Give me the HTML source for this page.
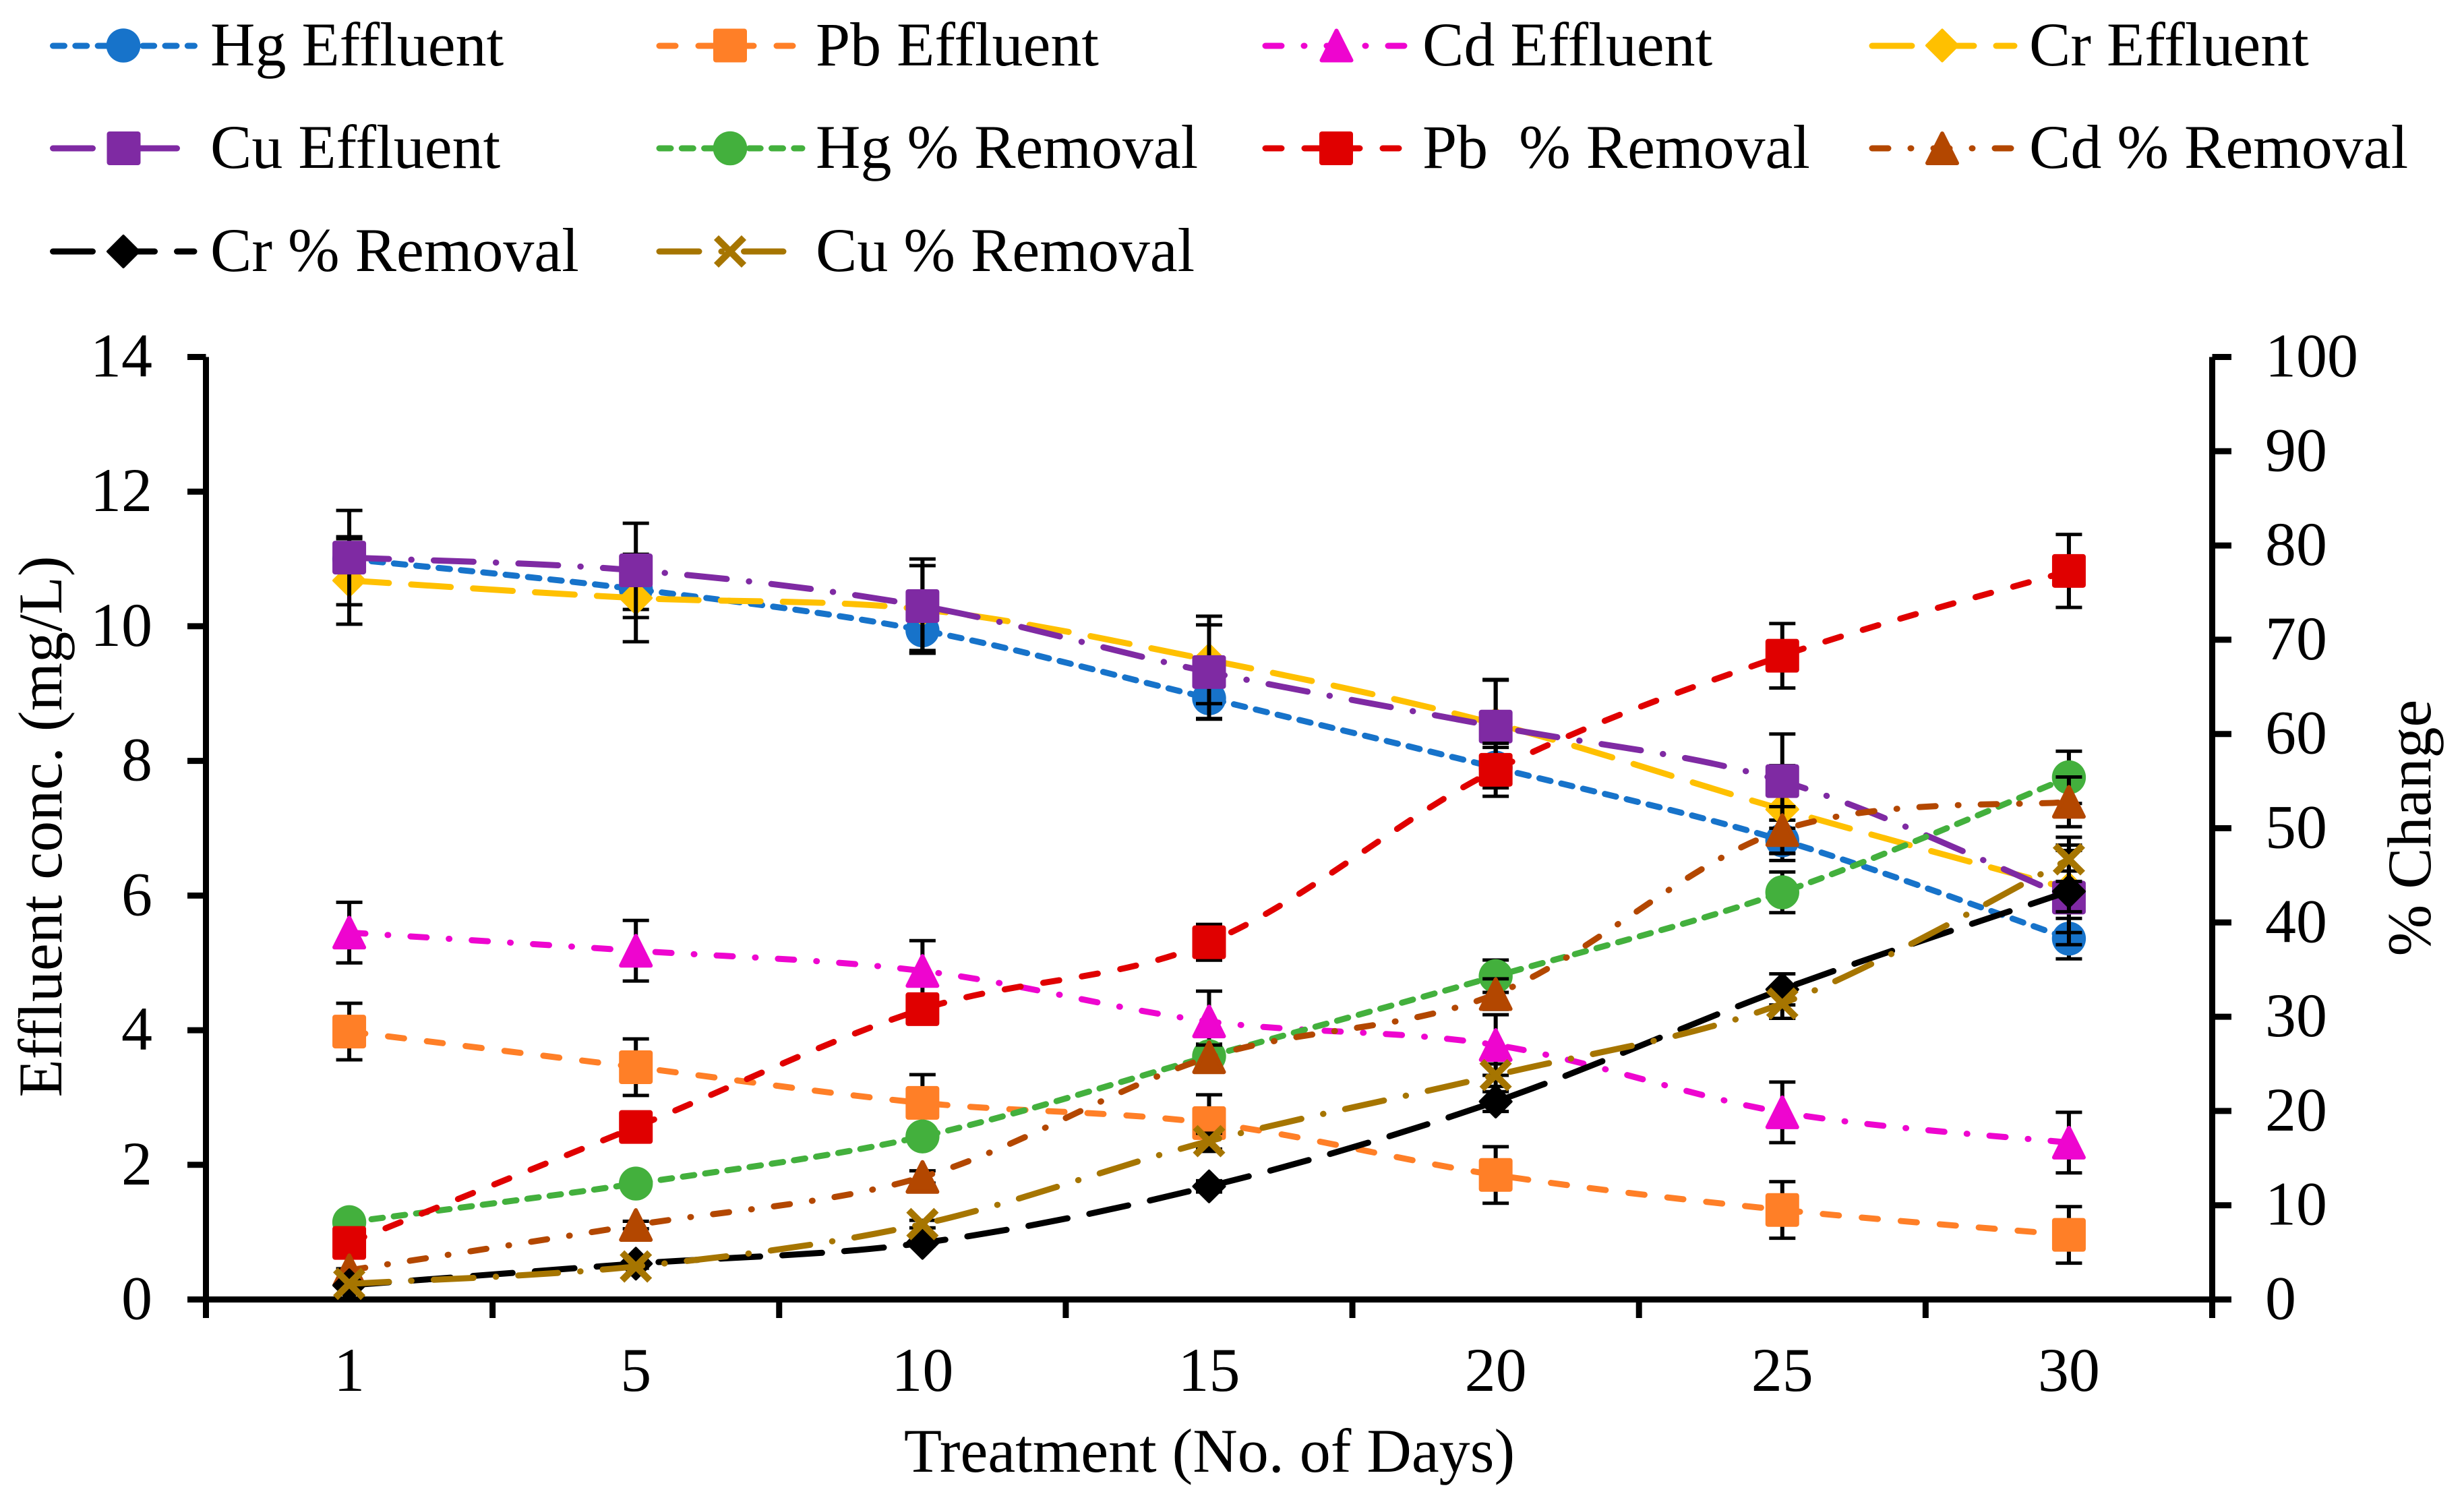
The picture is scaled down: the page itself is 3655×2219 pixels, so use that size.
<!DOCTYPE html>
<html lang="en">
<head>
<meta charset="utf-8">
<title>Effluent concentration and percent removal over treatment days</title>
<style>
html,body{margin:0;padding:0;background:#fff;width:3655px;height:2219px;overflow:hidden}
svg{display:block}
text{font-family:"Liberation Serif",serif;font-size:92px;fill:#000;white-space:pre}
</style>
</head>
<body>
<svg id="chart" xmlns="http://www.w3.org/2000/svg" width="3655" height="2219" viewBox="0 0 3655 2219">
  <g id="axes"></g>
  <g id="tick-labels"></g>
  <g id="plot"></g>

  <text x="1794" y="2183" text-anchor="middle">Treatment (No. of Days)</text>
  <text transform="translate(91,1226) rotate(-90)" text-anchor="middle">Effluent conc. (mg/L)</text>
  <text transform="translate(3605,1228) rotate(-90)" text-anchor="middle">% Change</text>

  <g stroke-linecap="round" fill="none" stroke-width="9">
    <g>
      <line x1="78.5" y1="68" x2="288.5" y2="68" stroke="#1773CA" stroke-dasharray="17 16.3"/>
      <circle cx="183" cy="67.5" r="25.3" fill="#1773CA" stroke="none"/>
      <text x="312" y="97" stroke="none">Hg Effluent</text>
    </g>
    <g>
      <line x1="978" y1="68" x2="1180" y2="68" stroke="#FF7F27" stroke-dasharray="24 34"/>
      <rect x="1058" y="42.5" width="50" height="50" rx="4" fill="#FF7F27" stroke="none"/>
      <text x="1210" y="97" stroke="none">Pb Effluent</text>
    </g>
    <g>
      <line x1="1877" y1="68" x2="2087" y2="68" stroke="#EE05CF" stroke-dasharray="24 33 1 33"/>
      <polygon points="1982.5,45.5 2004.5,89.5 1960.5,89.5" fill="#EE05CF" stroke="#EE05CF" stroke-width="6" stroke-linejoin="round"/>
      <text x="2110" y="97" stroke="none">Cd Effluent</text>
    </g>
    <g>
      <line x1="2777" y1="68" x2="2988" y2="68" stroke="#FFC000" stroke-dasharray="59 33"/>
      <polygon points="2881,44.5 2904,67.5 2881,90.5 2858,67.5" fill="#FFC000" stroke="#FFC000" stroke-width="4" stroke-linejoin="round"/>
      <text x="3010" y="97" stroke="none">Cr Effluent</text>
    </g>
    <g>
      <line x1="78.5" y1="220" x2="262.5" y2="220" stroke="#7F2AA3" stroke-dasharray="59 33 0.5 33"/>
      <rect x="158.5" y="195" width="50" height="50" rx="4" fill="#7F2AA3" stroke="none"/>
      <text x="312" y="249" stroke="none">Cu Effluent</text>
    </g>
    <g>
      <line x1="978" y1="220" x2="1190" y2="220" stroke="#43B03D" stroke-dasharray="17 16.3"/>
      <circle cx="1083" cy="220" r="25.3" fill="#43B03D" stroke="none"/>
      <text x="1210" y="249" stroke="none">Hg % Removal</text>
    </g>
    <g>
      <line x1="1877" y1="220" x2="2080" y2="220" stroke="#E00000" stroke-dasharray="24 34"/>
      <rect x="1957" y="195" width="50" height="50" rx="4" fill="#E00000" stroke="none"/>
      <text x="2110" y="249" stroke="none" xml:space="preserve">Pb  % Removal</text>
    </g>
    <g>
      <line x1="2777" y1="220" x2="2988" y2="220" stroke="#B34700" stroke-dasharray="24 33 1 33"/>
      <polygon points="2881,198 2903,242 2859,242" fill="#B34700" stroke="#B34700" stroke-width="6" stroke-linejoin="round"/>
      <text x="3010" y="249" stroke="none">Cd % Removal</text>
    </g>
    <g>
      <line x1="78.5" y1="373" x2="288" y2="373" stroke="#000" stroke-dasharray="59 33"/>
      <polygon points="183,350 206,373 183,396 160,373" fill="#000" stroke="#000" stroke-width="4" stroke-linejoin="round"/>
      <text x="312" y="402" stroke="none">Cr % Removal</text>
    </g>
    <g>
      <line x1="978" y1="373" x2="1162" y2="373" stroke="#A67500" stroke-dasharray="59 33 0.5 33"/>
      <path d="M1062.5 352.5L1103.5 393.5M1103.5 352.5L1062.5 393.5" stroke="#A67500" stroke-width="10" stroke-linecap="butt"/>
      <text x="1210" y="402" stroke="none">Cu % Removal</text>
    </g>
  </g>
</svg>
<script>
// ---- chart data ----
const categories = ['1', '5', '10', '15', '20', '25', '30'];
const leftTicks = [0, 2, 4, 6, 8, 10, 12, 14];
const rightTicks = [0, 10, 20, 30, 40, 50, 60, 70, 80, 90, 100];

const hgEffluent = [11.0, 10.55, 9.94, 8.93, 7.9, 6.82, 5.36];
const pbEffluent = [3.98, 3.45, 2.92, 2.62, 1.85, 1.33, 0.96];
const cdEffluent = [5.45, 5.18, 4.88, 4.13, 3.78, 2.78, 2.33];
const crEffluent = [10.68, 10.42, 10.25, 9.5, 8.55, 7.28, 6.1];
const cuEffluent = [11.02, 10.83, 10.3, 9.32, 8.51, 7.7, 5.97];
const hgRemoval = [8.2, 12.3, 17.3, 25.8, 34.3, 43.2, 55.4];
const pbRemoval = [6.0, 18.3, 30.8, 37.9, 56.2, 68.3, 77.3];
const cdRemoval = [3.1, 7.9, 13.0, 25.7, 32.4, 49.8, 52.8];
const crRemoval = [1.5, 3.8, 6.0, 12.0, 21.0, 32.9, 43.3];
const cuRemoval = [1.66, 3.5, 8.0, 16.8, 23.8, 31.4, 46.7];

const hgEffluentErr = [0.3, 0.3, 0.3, 0.3, 0.3, 0.3, 0.3];
const pbEffluentErr = [0.42, 0.42, 0.42, 0.42, 0.42, 0.42, 0.42];
const cdEffluentErr = [0.45, 0.45, 0.45, 0.45, 0.45, 0.45, 0.45];
const crEffluentErr = [0.65, 0.65, 0.65, 0.65, 0.65, 0.65, 0.65];
const cuEffluentErr = [0.7, 0.7, 0.7, 0.7, 0.7, 0.7, 0.7];
const hgRemovalErr = [0.41, 0.62, 0.87, 1.29, 1.72, 2.16, 2.77];
const pbRemovalErr = [0.3, 0.92, 1.54, 1.9, 2.81, 3.42, 3.87];
const cdRemovalErr = [0.16, 0.4, 0.65, 1.29, 1.62, 2.49, 2.64];
const crRemovalErr = [0.08, 0.19, 0.3, 0.6, 1.05, 1.65, 2.16];
const cuRemovalErr = [0.08, 0.18, 0.4, 0.84, 1.19, 1.57, 2.34];

// ---- geometry and axis functions ----
const SVGNS = 'http://www.w3.org/2000/svg';
const plotLeft = 305.5, plotRight = 3281.5, plotTop = 529.5, plotBottom = 1927.5;
const leftMax = 14, rightMax = 100;
const xAt = i => plotLeft + (plotRight - plotLeft) * (i + 0.5) / categories.length;
const xEdge = i => plotLeft + (plotRight - plotLeft) * i / categories.length;
const yLeft = v => plotBottom - (plotBottom - plotTop) * v / leftMax;
const yRight = v => plotBottom - (plotBottom - plotTop) * v / rightMax;

function make(parent, tag, attrs, content) {
  const node = document.createElementNS(SVGNS, tag);
  for (const k in attrs) node.setAttribute(k, attrs[k]);
  if (content !== undefined) node.textContent = content;
  parent.appendChild(node);
  return node;
}

function smoothPath(pts) {
  let d = 'M' + pts[0][0] + ' ' + pts[0][1];
  for (let i = 0; i < pts.length - 1; i++) {
    const p0 = pts[Math.max(0, i - 1)], p1 = pts[i], p2 = pts[i + 1], p3 = pts[Math.min(pts.length - 1, i + 2)];
    const c1x = p1[0] + (p2[0] - p0[0]) / 6, c1y = p1[1] + (p2[1] - p0[1]) / 6;
    const c2x = p2[0] - (p3[0] - p1[0]) / 6, c2y = p2[1] - (p3[1] - p1[1]) / 6;
    d += 'C' + c1x + ' ' + c1y + ' ' + c2x + ' ' + c2y + ' ' + p2[0] + ' ' + p2[1];
  }
  return d;
}

const DOT = '17 16.3', DASH = '24 34', LONG = '59 33', DASHDOT = '24 33 1 33', LONGDOT = '59 33 0.5 33';
const seriesList = [
  { key: 'hg-effluent', values: hgEffluent, errs: hgEffluentErr, y: yLeft, color: '#1773CA', dash: DOT, marker: 'circle' },
  { key: 'pb-effluent', values: pbEffluent, errs: pbEffluentErr, y: yLeft, color: '#FF7F27', dash: DASH, marker: 'square' },
  { key: 'cd-effluent', values: cdEffluent, errs: cdEffluentErr, y: yLeft, color: '#EE05CF', dash: DASHDOT, marker: 'triangle' },
  { key: 'cr-effluent', values: crEffluent, errs: crEffluentErr, y: yLeft, color: '#FFC000', dash: LONG, marker: 'diamond' },
  { key: 'cu-effluent', values: cuEffluent, errs: cuEffluentErr, y: yLeft, color: '#7F2AA3', dash: LONGDOT, marker: 'square' },
  { key: 'hg-removal', values: hgRemoval, errs: hgRemovalErr, y: yRight, color: '#43B03D', dash: DOT, marker: 'circle' },
  { key: 'pb-removal', values: pbRemoval, errs: pbRemovalErr, y: yRight, color: '#E00000', dash: DASH, marker: 'square' },
  { key: 'cd-removal', values: cdRemoval, errs: cdRemovalErr, y: yRight, color: '#B34700', dash: DASHDOT, marker: 'triangle' },
  { key: 'cr-removal', values: crRemoval, errs: crRemovalErr, y: yRight, color: '#000000', dash: LONG, marker: 'diamond' },
  { key: 'cu-removal', values: cuRemoval, errs: cuRemovalErr, y: yRight, color: '#A67500', dash: LONGDOT, marker: 'x' }
];

// ---- axes ----
const axes = document.getElementById('axes');
const labels = document.getElementById('tick-labels');
const axisStyle = { stroke: '#000', 'stroke-width': 9, fill: 'none' };

const xAxisLine = make(axes, 'line', Object.assign({ x1: plotLeft - 4.5, x2: plotRight + 4.5, y1: plotBottom, y2: plotBottom }, axisStyle));


const leftAxisLine = make(axes, 'line', Object.assign({ x1: plotLeft, x2: plotLeft, y1: plotTop, y2: plotBottom }, axisStyle));


const rightAxisLine = make(axes, 'line', Object.assign({ x1: plotRight, x2: plotRight, y1: plotTop, y2: plotBottom }, axisStyle));



for (let i = 0; i <= categories.length; i++) {
  const tick = make(axes, 'line', Object.assign({ x1: xEdge(i), x2: xEdge(i), y1: plotBottom, y2: plotBottom + 27.5 }, axisStyle));
  
  
}
categories.forEach((c, i) => {
  const lab = make(labels, 'text', { x: xAt(i), y: 2063, 'text-anchor': 'middle' }, c);
  
  
});
leftTicks.forEach(v => {
  const tick = make(axes, 'line', Object.assign({ x1: plotLeft - 27.5, x2: plotLeft, y1: yLeft(v), y2: yLeft(v) }, axisStyle));
  
  
  const lab = make(labels, 'text', { x: 226, y: yLeft(v) + 29, 'text-anchor': 'end' }, String(v));
  
  
});
rightTicks.forEach(v => {
  const tick = make(axes, 'line', Object.assign({ x1: plotRight, x2: plotRight + 28.5, y1: yRight(v), y2: yRight(v) }, axisStyle));
  
  
  const lab = make(labels, 'text', { x: 3360, y: yRight(v) + 29, 'text-anchor': 'start' }, String(v));
  
  
});

// ---- series ----
const plot = document.getElementById('plot');
const R = 25.2, CAP = 19.5;

function drawMarker(g, type, x, y, color) {
  if (type === 'circle') return make(g, 'circle', { cx: x, cy: y, r: R, fill: color });
  if (type === 'square') return make(g, 'rect', { x: x - 25, y: y - 25, width: 50, height: 50, rx: 4, fill: color });
  if (type === 'triangle') {
    const pts = x + ',' + (y - 22) + ' ' + (x + 22) + ',' + (y + 22) + ' ' + (x - 22) + ',' + (y + 22);
    return make(g, 'polygon', { points: pts, fill: color, stroke: color, 'stroke-width': 6, 'stroke-linejoin': 'round' });
  }
  if (type === 'diamond') {
    const pts = x + ',' + (y - 23) + ' ' + (x + 23) + ',' + y + ' ' + x + ',' + (y + 23) + ' ' + (x - 23) + ',' + y;
    return make(g, 'polygon', { points: pts, fill: color, stroke: color, 'stroke-width': 4, 'stroke-linejoin': 'round' });
  }
  const a = 20.5;
  const d = 'M' + (x - a) + ' ' + (y - a) + 'L' + (x + a) + ' ' + (y + a) + 'M' + (x + a) + ' ' + (y - a) + 'L' + (x - a) + ' ' + (y + a);
  return make(g, 'path', { d: d, stroke: color, 'stroke-width': 10, fill: 'none' });
}

seriesList.forEach(s => {
  const group = make(plot, 'g', {});
  
  

  s.values.forEach((v, i) => {
    const x = xAt(i), hi = s.y(v + s.errs[i]), lo = s.y(v - s.errs[i]);
    const errGroup = make(group, 'g', { stroke: '#000', fill: 'none' });
    
    
    make(errGroup, 'path', { d: 'M' + x + ' ' + hi + 'V' + lo, 'stroke-width': 6 });
    make(errGroup, 'path', { d: 'M' + (x - CAP) + ' ' + hi + 'H' + (x + CAP) + 'M' + (x - CAP) + ' ' + lo + 'H' + (x + CAP), 'stroke-width': 5 });
  });

  const pts = s.values.map((v, i) => [xAt(i), s.y(v)]);
  const line = make(group, 'path', {
    d: smoothPath(pts), fill: 'none', stroke: s.color, 'stroke-width': 9,
    'stroke-linecap': 'round', 'stroke-linejoin': 'round', 'stroke-dasharray': s.dash
  });
  
  

  s.values.forEach((v, i) => {
    const m = drawMarker(group, s.marker, xAt(i), s.y(v), s.color);
    
    
  });
});
</script>
</body>
</html>
